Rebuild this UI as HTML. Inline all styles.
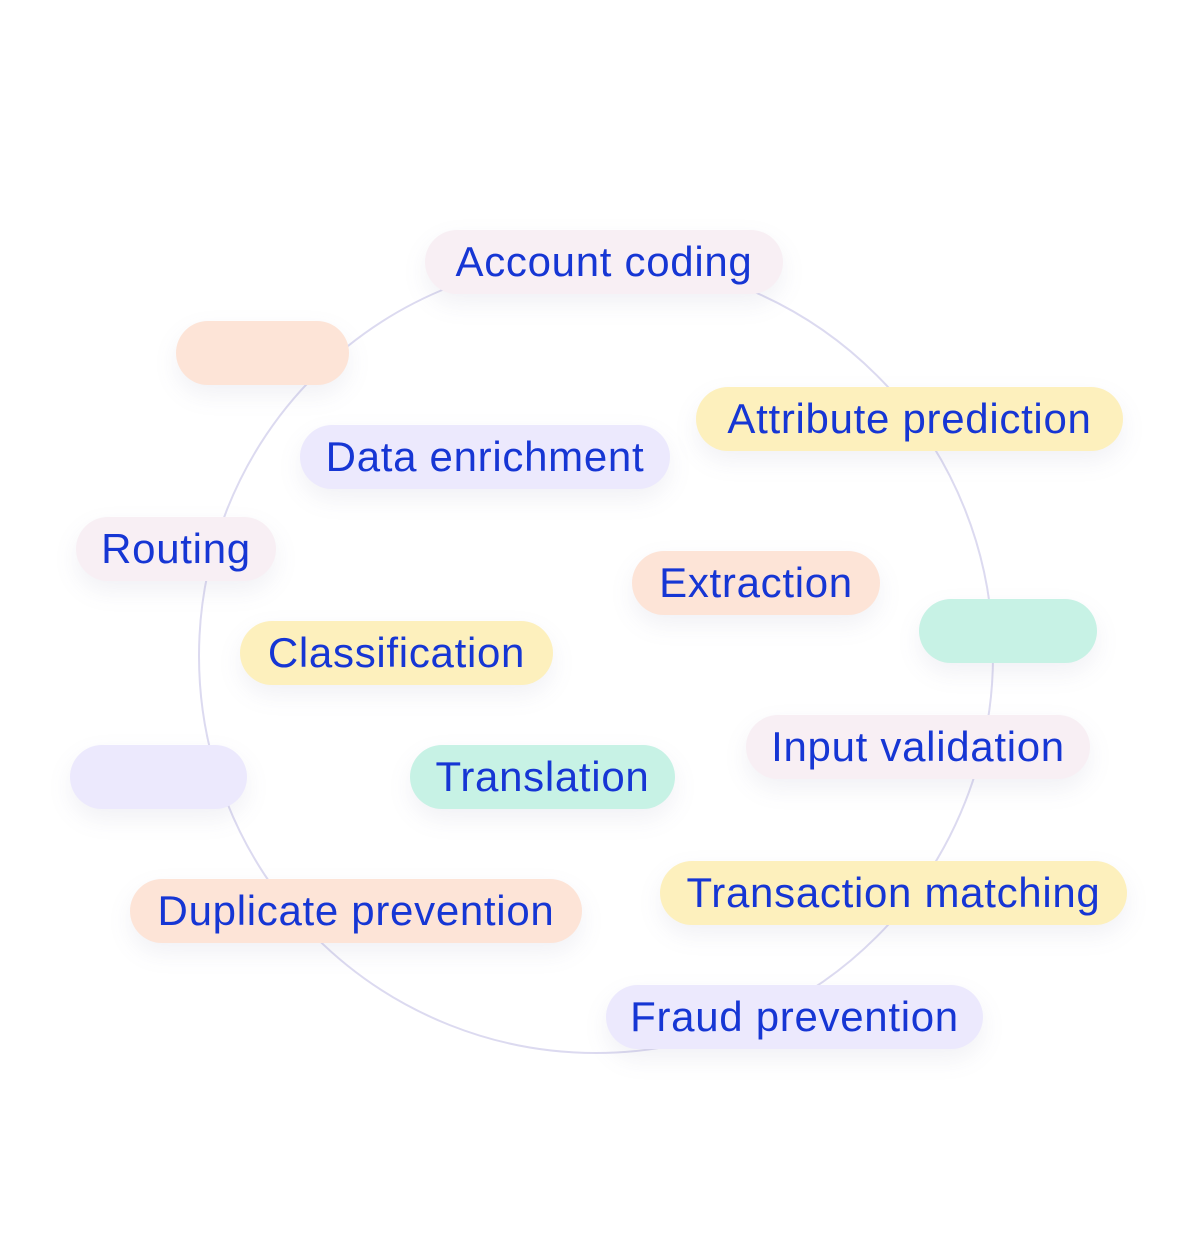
<!DOCTYPE html>
<html><head><style>
body{margin:0;width:1192px;height:1240px;background:#fff;position:relative;overflow:hidden;font-family:"Liberation Sans",sans-serif}
.p{position:absolute;height:64px;border-radius:32px;display:flex;align-items:center;justify-content:center;color:#1636d4;font-size:42px;letter-spacing:0.7px;box-shadow:0 10px 24px rgba(120,120,160,0.10);white-space:nowrap}
.pk{background:#f8eff4}.pe{background:#fde4d7}.y{background:#fdf0bd}.l{background:#ece9fd}.t{background:#c7f2e5}
svg{position:absolute;left:0;top:0}
</style></head><body>
<svg width="1192" height="1240"><circle cx="596" cy="656" r="397" fill="none" stroke="#dcdaf0" stroke-width="2"/></svg>
<div class="p pk" style="left:425px;top:230px;width:358px">Account coding</div>
<div class="p pe" style="left:176px;top:321px;width:173px"></div>
<div class="p y" style="left:696px;top:387px;width:427px">Attribute prediction</div>
<div class="p l" style="left:300px;top:425px;width:370px">Data enrichment</div>
<div class="p pk" style="left:76px;top:517px;width:200px">Routing</div>
<div class="p pe" style="left:632px;top:551px;width:248px">Extraction</div>
<div class="p t" style="left:919px;top:599px;width:178px"></div>
<div class="p y" style="left:240px;top:621px;width:313px">Classification</div>
<div class="p pk" style="left:746px;top:715px;width:344px">Input validation</div>
<div class="p l" style="left:70px;top:745px;width:177px"></div>
<div class="p t" style="left:410px;top:745px;width:265px">Translation</div>
<div class="p y" style="left:660px;top:861px;width:467px">Transaction matching</div>
<div class="p pe" style="left:130px;top:879px;width:452px">Duplicate prevention</div>
<div class="p l" style="left:606px;top:985px;width:377px">Fraud prevention</div>
</body></html>
